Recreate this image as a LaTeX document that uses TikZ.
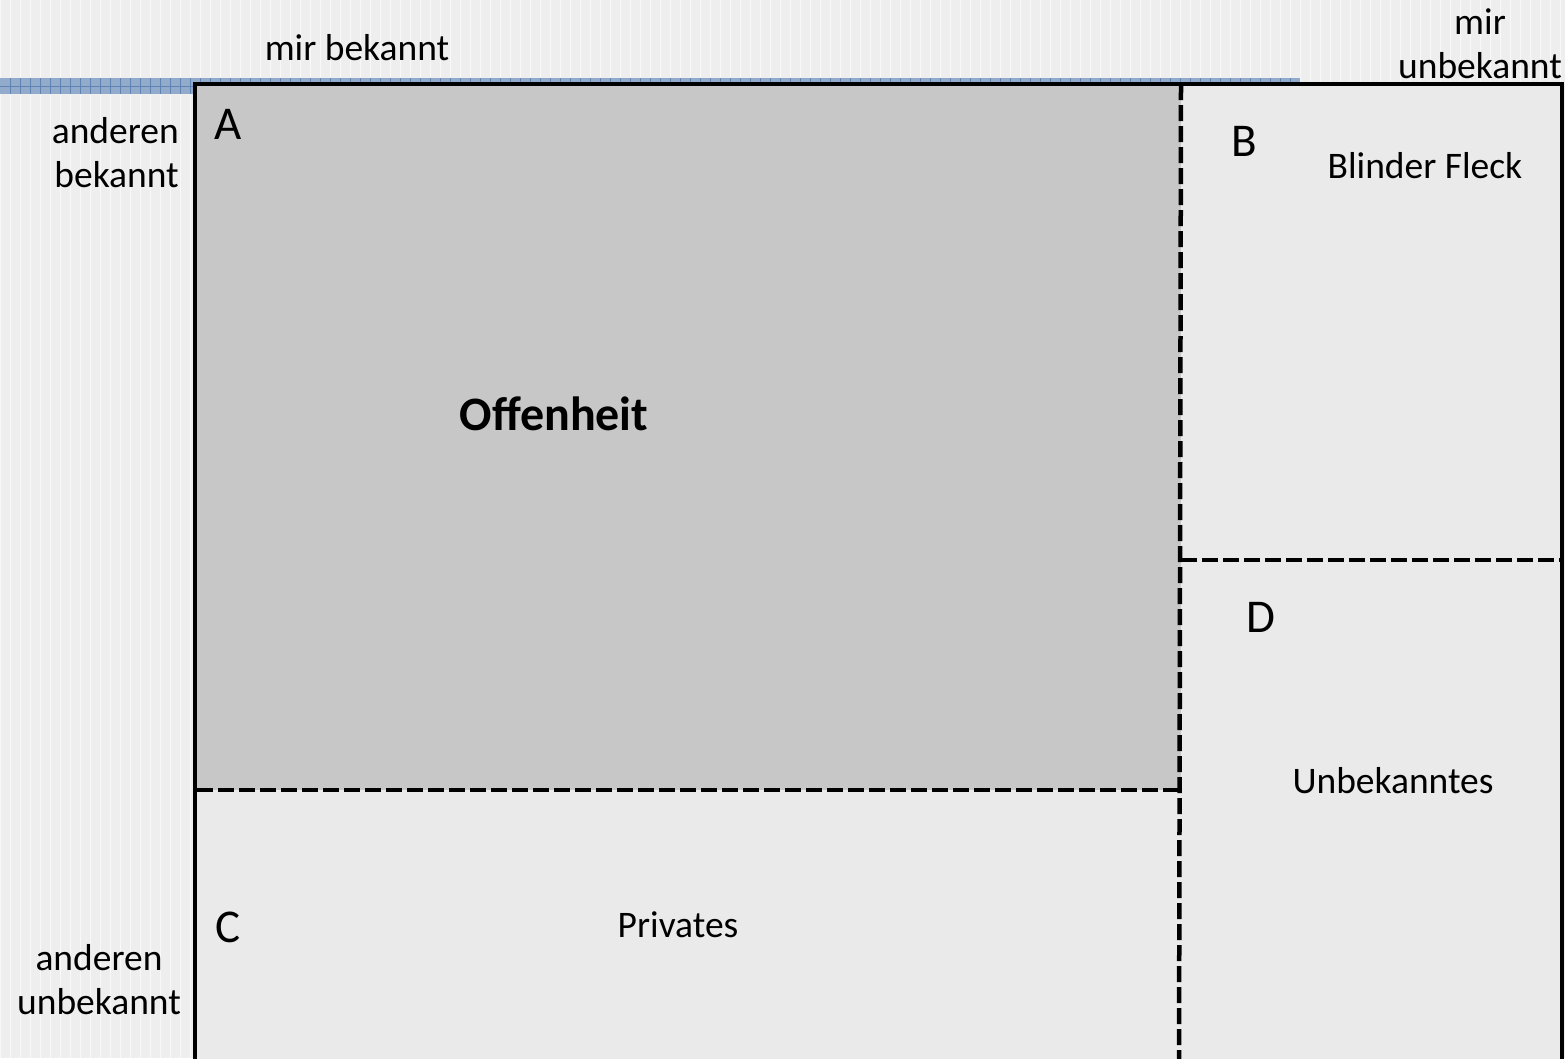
\documentclass[tikz,border=0pt]{standalone}
\usepackage{fontspec}
\setmainfont{Carlito}
\definecolor{bg}{HTML}{EEEEEE}
\definecolor{band}{HTML}{92ABCB}
\definecolor{bandline}{HTML}{5F84B4}
\definecolor{openfill}{HTML}{C7C7C7}
\definecolor{palefill}{HTML}{EAEAEA}

\begin{document}
\begin{tikzpicture}[x=1pt,y=-1pt,
  txt/.style={font=\fontsize{37.5}{44}\selectfont, inner sep=0pt},
  letter/.style={font=\fontsize{47}{50}\selectfont, inner sep=0pt},
  border/.style={line width=4.5pt},
  divider/.style={line width=4.5pt, dash pattern=on 16pt off 5pt}]
\useasboundingbox (0,0) rectangle (1565,1058);
\clip (0,0) rectangle (1565,1058);

% paper with a faint grid
\fill[bg] (0,0) rectangle (1565,1058);
\draw[white, line width=1pt, opacity=0.6] (0,0) grid[step=10] (1565,1058);

% blue header band
\fill[band] (0,78) rectangle (1300,94);
\draw[bandline, line width=1pt] (0,86) -- (1300,86);
\foreach \x in {10,20,...,1290} \draw[bandline, line width=0.8pt] (\x,78) -- (\x,94);

% quadrants
\fill[openfill]  (195,84) rectangle (1181,790);
\fill[palefill]  (1181,84) rectangle (1562,1070);
\fill[palefill]  (195,790) rectangle (1181,1070);

% dividers
\coordinate (vtop) at (1181,84);
\coordinate (vbot) at (1179,1070);
\coordinate (hleft) at (197,790);
\coordinate (hright) at (1179,790);
\coordinate (rleft) at (1181,560);
\coordinate (rright) at (1560,560);
\draw[divider] (vtop) -- (vbot);
\draw[divider] (hleft) -- (hright);
\draw[divider] (rleft) -- (rright);

% outer frame, open at the bottom
\draw[border] (195,1070) -- (195,84) -- (1562,84);
\draw[line width=3.5pt] (1562,82) -- (1562,1070);

% axis labels
\node[txt] (known) at (357,48) {mir bekannt};
\node[txt, align=center] (unknown) at (1480,44) {mir\\unbekannt};
\node[txt, align=right, anchor=east] (othersknow) at (179,153) {anderen\\bekannt};
\node[txt, align=center] (othersunknown) at (99,980) {anderen\\unbekannt};

% quadrant letters
\node[letter] (la) at (228,124) {A};
\node[letter] (lb) at (1244,141) {B};
\node[letter] (lc) at (228,927) {C};
\node[letter] (ld) at (1261,617) {D};

% quadrant names
\node[font=\bfseries\fontsize{48}{52}\selectfont, inner sep=0pt] (open) at (554,414) {Offenheit};
\node[txt] (blind) at (1425,166) {Blinder Fleck};
\node[txt] (private) at (678,925) {Privates};
\node[txt] (unk) at (1393,781) {Unbekanntes};
\end{tikzpicture}
\end{document}
